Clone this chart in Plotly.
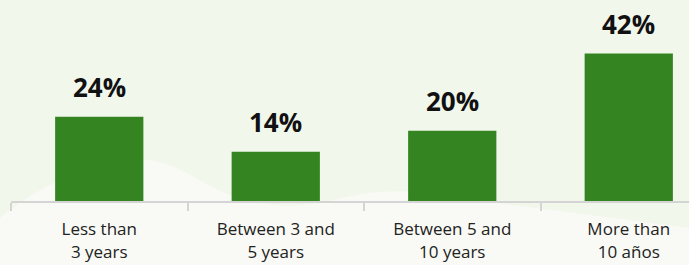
import plotly.graph_objects as go

categories = ["Less than<br>3 years", "Between 3 and<br>5 years", "Between 5 and<br>10 years", "More than<br>10 años"]
values = [24, 14, 20, 42]
labels = ["24%", "14%", "20%", "42%"]

W, H = 689, 265
ML, MR, MT, MB = 11, 0, 0, 64
BG = "#f2f7ec"
LIGHT = "#f9faf5"
GREEN = "#348521"
CAT_PX = 176.5
PX_PER_PCT = 3.51

fig = go.Figure()
fig.add_trace(go.Bar(x=categories, y=values, marker=dict(color=GREEN, line=dict(width=0)),
                     width=0.5, hoverinfo="skip"))

for c, v, t in zip(categories, values, labels):
    fig.add_annotation(x=c, y=v, text=t, showarrow=False, yanchor="middle", yshift=30,
                       font=dict(family="Open Sans", size=26, color="#111111", weight="bold"))

# decorative light wave in the background (pixel coords converted to paper)
pw = W - ML - MR
ph = H - MT - MB
def P(x, y):
    return f"{(x-ML)/pw:.4f},{(H-MB-y)/ph:.4f}"

path = ("M " + P(0, 218) + " C " + P(25, 198) + " " + P(70, 165) + " " + P(140, 160) +
        " C " + P(185, 160) + " " + P(200, 192) + " " + P(260, 203) +
        " C " + P(310, 212) + " " + P(340, 195) + " " + P(380, 192) +
        " C " + P(430, 189) + " " + P(470, 196) + " " + P(497, 203) +
        " L " + P(689, 228) + " L " + P(689, 265) + " L " + P(0, 265) + " Z")
fig.add_shape(type="path", path=path, xref="paper", yref="paper", layer="below",
              fillcolor=LIGHT, line=dict(width=0))

fig.update_layout(
    width=W, height=H, margin=dict(l=ML, r=MR, t=MT, b=MB, autoexpand=False),
    paper_bgcolor=BG, plot_bgcolor="rgba(0,0,0,0)",
    showlegend=False, bargap=0.5,
    font=dict(family="Open Sans", size=17, color="#222222"),
)
fig.update_xaxes(range=[-0.5, -0.5 + pw / CAT_PX], tickson="boundaries", ticks="outside",
                 ticklen=8, tickwidth=1.5, tickcolor="#d4d4d4", showline=True, linecolor="#d4d4d4",
                 linewidth=2, showgrid=False, zeroline=False, fixedrange=True,
                 ticklabelstandoff=12, automargin=False,
                 tickfont=dict(family="Open Sans", size=17, color="#222222"))
fig.update_yaxes(range=[0, ph / PX_PER_PCT], visible=False, showgrid=False, zeroline=False,
                 fixedrange=True, automargin=False)

fig.write_html("out.html", config={"displayModeBar": False},
               post_script="document.body.style.margin='0';")
